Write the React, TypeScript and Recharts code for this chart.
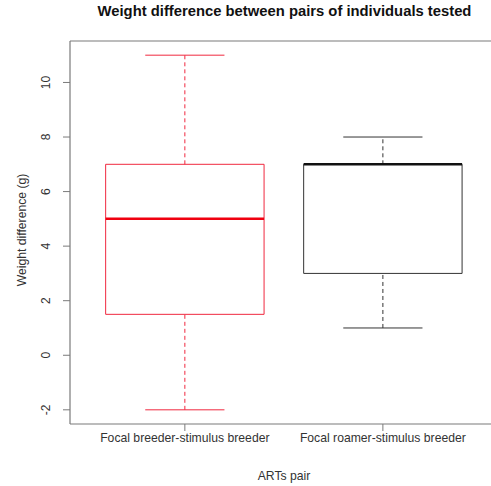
import { ComposedChart, XAxis, YAxis, ReferenceArea, ReferenceLine, Scatter } from 'recharts'

const categories = ['Focal breeder-stimulus breeder', 'Focal roamer-stimulus breeder']
const positions = [1, 2]
const mins = [-2, 1]
const q1s = [1.5, 3]
const medians = [5, 7]
const q3s = [7, 7]
const maxs = [11, 8]
const boxColors = ['#f0283f', '#333333']
const medianColors = ['#f00010', '#111111']
const yTicks = [-2, 0, 2, 4, 6, 8, 10]

const font = '"Liberation Sans", Arial, sans-serif'
const frameColor = '#7a7a7a'
const boxWidth = 0.8
const capWidth = 0.4
// plot region is cut off on the right, so the x range stops short of 2.58
const xDomain = [0.42, 2.546]
const yDomain = [-2.52, 11.52]

const data = positions.map((p, i) => ({ pos: p, median: medians[i] }))

function YTick({ y, payload }: any) {
  return (
    <text
      transform={`translate(46,${y}) rotate(-90)`}
      textAnchor="middle"
      dominantBaseline="central"
      fontSize={12}
      fontFamily={font}
      fill="#333"
    >
      {payload.value}
    </text>
  )
}

function XTick({ x, payload }: any) {
  return (
    <text
      x={x}
      y={437.5}
      textAnchor="middle"
      dominantBaseline="central"
      fontSize={12.2}
      fontFamily={font}
      fill="#333"
    >
      {categories[payload.value - 1]}
    </text>
  )
}

export default function App() {
  return (
    <div style={{ position: 'absolute', left: 0, top: 0, width: 491, height: 486, background: '#fff' }}>
      <ComposedChart
        width={491}
        height={486}
        data={data}
        margin={{ top: 41, right: 0, bottom: 0, left: 0 }}
      >
        <XAxis
          type="number"
          dataKey="pos"
          domain={xDomain}
          ticks={positions}
          allowDataOverflow
          height={62}
          axisLine={{ stroke: frameColor, strokeWidth: 1.2 }}
          tickSize={7}
          tickLine={{ stroke: frameColor }}
          tick={<XTick />}
        />
        <YAxis
          type="number"
          domain={yDomain}
          ticks={yTicks}
          allowDataOverflow
          width={70}
          axisLine={{ stroke: frameColor, strokeWidth: 1.2 }}
          tickSize={7}
          tickLine={{ stroke: frameColor }}
          tick={<YTick />}
        />
        {/* top edge of the plot frame */}
        <ReferenceLine y={yDomain[1]} stroke={frameColor} strokeWidth={1.2} ifOverflow="visible" />
        {positions.map((p, i) => (
          <ReferenceLine
            key={`wl-${i}`}
            segment={[{ x: p, y: mins[i] }, { x: p, y: q1s[i] }]}
            stroke={boxColors[i]}
            strokeDasharray="4 3"
          />
        ))}
        {positions.map((p, i) => (
          <ReferenceLine
            key={`wh-${i}`}
            segment={[{ x: p, y: q3s[i] }, { x: p, y: maxs[i] }]}
            stroke={boxColors[i]}
            strokeDasharray="4 3"
          />
        ))}
        {positions.map((p, i) => (
          <ReferenceLine
            key={`cl-${i}`}
            segment={[{ x: p - capWidth / 2, y: mins[i] }, { x: p + capWidth / 2, y: mins[i] }]}
            stroke={boxColors[i]}
          />
        ))}
        {positions.map((p, i) => (
          <ReferenceLine
            key={`ch-${i}`}
            segment={[{ x: p - capWidth / 2, y: maxs[i] }, { x: p + capWidth / 2, y: maxs[i] }]}
            stroke={boxColors[i]}
          />
        ))}
        {positions.map((p, i) => (
          <ReferenceArea
            key={`box-${i}`}
            x1={p - boxWidth / 2}
            x2={p + boxWidth / 2}
            y1={q1s[i]}
            y2={q3s[i]}
            fill="none"
            fillOpacity={0}
            stroke={boxColors[i]}
            strokeWidth={1}
          />
        ))}
        {positions.map((p, i) => (
          <ReferenceLine
            key={`med-${i}`}
            segment={[{ x: p - boxWidth / 2, y: medians[i] }, { x: p + boxWidth / 2, y: medians[i] }]}
            stroke={medianColors[i]}
            strokeWidth={2.5}
          />
        ))}
        <Scatter dataKey="median" shape={() => <g />} isAnimationActive={false} />
      </ComposedChart>
      <div style={{ position: 'absolute', left: 0, width: 569, top: 3, textAlign: 'center', fontFamily: font, fontWeight: 'bold', fontSize: 14.8, color: '#111', whiteSpace: 'nowrap' }}>
        Weight difference between pairs of individuals tested
      </div>
      <div style={{ position: 'absolute', left: 0, width: 568, top: 469, textAlign: 'center', fontFamily: font, fontSize: 12.2, color: '#333' }}>
        ARTs pair
      </div>
      <div style={{ position: 'absolute', left: 22, top: 231, width: 0, height: 0 }}>
        <div style={{ position: 'absolute', left: -100, top: -8, width: 200, textAlign: 'center', transform: 'rotate(-90deg)', fontFamily: font, fontSize: 12.2, color: '#333', whiteSpace: 'nowrap' }}>
          Weight difference (g)
        </div>
      </div>
    </div>
  )
}
